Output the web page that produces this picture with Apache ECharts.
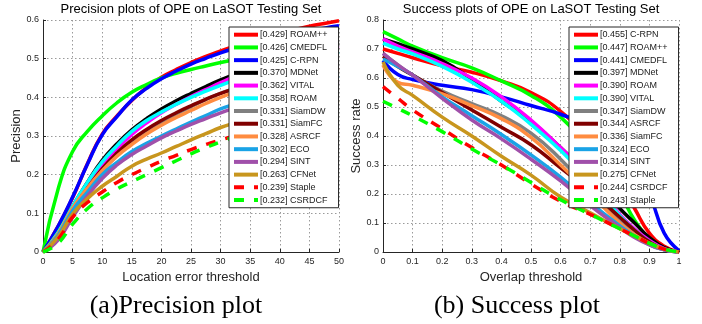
<!DOCTYPE html>
<html>
<head>
<meta charset="utf-8">
<script src="https://cdn.jsdelivr.net/npm/echarts@6/dist/echarts.min.js"></script>
<style>html,body{margin:0;padding:0;background:#fff;}#c{width:702px;height:324px;}</style>
</head>
<body>
<div id="c"></div>
<script>
// ---------- Data ----------
const precX = [0,2.5,5,7.5,10,12.5,15,17.5,20,22.5,25,27.5,30,32.5,35,37.5,40,42.5,45,47.5,50];
const precNames = ['ROAM++','CMEDFL','C-RPN','MDNet','VITAL','ROAM','SiamDW','SiamFC','ASRCF','ECO','SINT','CFNet','Staple','CSRDCF'];
const precScores = ['0.429','0.426','0.425','0.370','0.362','0.358','0.331','0.331','0.328','0.302','0.294','0.263','0.239','0.232'];
const precROAMpp = [0,0.065,0.14,0.228,0.305,0.352,0.392,0.425,0.452,0.472,0.49,0.506,0.52,0.533,0.545,0.556,0.566,0.575,0.584,0.591,0.598];
const precCMEDFL = [0,0.16,0.26,0.312,0.352,0.386,0.413,0.433,0.45,0.462,0.472,0.481,0.49,0.498,0.505,0.511,0.516,0.521,0.526,0.531,0.535];
const precCRPN   = [0,0.065,0.142,0.227,0.303,0.35,0.393,0.423,0.448,0.468,0.486,0.501,0.515,0.527,0.538,0.547,0.556,0.564,0.572,0.579,0.585];
const precMDNet  = [0,0.05,0.118,0.18,0.237,0.28,0.316,0.345,0.37,0.391,0.41,0.428,0.445,0.46,0.475,0.488,0.5,0.511,0.522,0.532,0.542];
const precVITAL  = [0,0.042,0.11,0.167,0.222,0.266,0.304,0.334,0.36,0.382,0.402,0.42,0.438,0.455,0.47,0.483,0.495,0.505,0.515,0.524,0.533];
const precROAM   = [0,0.05,0.118,0.18,0.233,0.275,0.312,0.34,0.362,0.382,0.4,0.416,0.431,0.445,0.458,0.469,0.48,0.49,0.5,0.509,0.518];
const precSiamDW = [0,0.043,0.106,0.16,0.21,0.25,0.284,0.312,0.336,0.357,0.376,0.394,0.41,0.423,0.435,0.445,0.455,0.464,0.472,0.48,0.487];
const precSiamFC = [0,0.044,0.11,0.165,0.215,0.256,0.29,0.317,0.34,0.36,0.378,0.395,0.41,0.423,0.434,0.444,0.452,0.46,0.466,0.472,0.477];
const precASRCF  = [0,0.046,0.113,0.165,0.21,0.248,0.278,0.305,0.328,0.348,0.366,0.384,0.4,0.413,0.425,0.436,0.445,0.453,0.46,0.466,0.471];
const precECO    = [0,0.042,0.107,0.155,0.2,0.232,0.26,0.281,0.3,0.318,0.336,0.353,0.37,0.383,0.395,0.407,0.418,0.428,0.438,0.447,0.455];
const precSINT   = [0,0.03,0.09,0.145,0.19,0.225,0.252,0.274,0.295,0.313,0.33,0.345,0.36,0.373,0.385,0.395,0.405,0.415,0.424,0.432,0.44];
const precCFNet  = [0,0.038,0.098,0.138,0.17,0.196,0.222,0.24,0.256,0.273,0.29,0.306,0.322,0.334,0.345,0.355,0.365,0.373,0.38,0.386,0.392];
const precStaple = [0,0.032,0.09,0.128,0.155,0.18,0.2,0.218,0.235,0.25,0.265,0.278,0.29,0.3,0.31,0.318,0.326,0.333,0.34,0.346,0.352];
const precCSRDCF = [0,0.022,0.072,0.112,0.14,0.163,0.182,0.2,0.218,0.236,0.254,0.27,0.285,0.298,0.31,0.32,0.33,0.338,0.346,0.353,0.36];
const precData = [precROAMpp,precCMEDFL,precCRPN,precMDNet,precVITAL,precROAM,precSiamDW,precSiamFC,precASRCF,precECO,precSINT,precCFNet,precStaple,precCSRDCF];

const succX = [0,0.05,0.1,0.2,0.3,0.4,0.5,0.6,0.7,0.8,0.85,0.9,0.95,1];
const succNames = ['C-RPN','ROAM++','CMEDFL','MDNet','ROAM','VITAL','SiamDW','ASRCF','SiamFC','ECO','SINT','CFNet','CSRDCF','Staple'];
const succScores = ['0.455','0.447','0.441','0.397','0.390','0.390','0.347','0.344','0.336','0.324','0.314','0.275','0.244','0.243'];
const succCRPN   = [0.70,0.685,0.67,0.642,0.62,0.59,0.55,0.485,0.38,0.24,0.15,0.065,0.02,0];
const succROAMpp = [0.76,0.735,0.71,0.67,0.635,0.59,0.54,0.465,0.35,0.2,0.11,0.045,0.012,0];
const succCMEDFL = [0.66,0.612,0.595,0.575,0.56,0.535,0.505,0.475,0.43,0.35,0.29,0.2,0.065,0.005];
const succMDNet  = [0.735,0.718,0.70,0.66,0.595,0.52,0.45,0.36,0.26,0.15,0.1,0.05,0.015,0];
const succROAM   = [0.735,0.71,0.69,0.65,0.6,0.535,0.455,0.36,0.255,0.13,0.08,0.04,0.012,0];
const succVITAL  = [0.72,0.70,0.683,0.64,0.585,0.52,0.44,0.35,0.245,0.125,0.075,0.035,0.01,0];
const succSiamDW = [0.685,0.645,0.61,0.555,0.512,0.47,0.41,0.32,0.21,0.11,0.065,0.025,0.008,0];
const succASRCF  = [0.675,0.64,0.61,0.55,0.49,0.43,0.37,0.29,0.21,0.12,0.075,0.035,0.01,0];
const succSiamFC = [0.645,0.585,0.575,0.545,0.505,0.46,0.395,0.3,0.2,0.1,0.06,0.03,0.01,0];
const succECO    = [0.665,0.64,0.61,0.535,0.47,0.405,0.335,0.258,0.17,0.09,0.055,0.025,0.008,0];
const succSINT   = [0.685,0.645,0.61,0.53,0.455,0.39,0.32,0.245,0.16,0.085,0.05,0.025,0.008,0];
const succCFNet  = [0.655,0.575,0.54,0.465,0.4,0.33,0.265,0.19,0.135,0.08,0.055,0.03,0.01,0];
const succCSRDCF = [0.57,0.53,0.49,0.425,0.36,0.3,0.235,0.175,0.13,0.08,0.055,0.03,0.01,0];
const succStaple = [0.52,0.495,0.47,0.415,0.355,0.3,0.24,0.18,0.13,0.08,0.055,0.03,0.01,0];
const succData = [succCRPN,succROAMpp,succCMEDFL,succMDNet,succROAM,succVITAL,succSiamDW,succASRCF,succSiamFC,succECO,succSINT,succCFNet,succCSRDCF,succStaple];

const precXTicks = [0,5,10,15,20,25,30,35,40,45,50];
const precYTicks = [0,0.1,0.2,0.3,0.4,0.5,0.6];
const succXTicks = [0,0.1,0.2,0.3,0.4,0.5,0.6,0.7,0.8,0.9,1];
const succYTicks = [0,0.1,0.2,0.3,0.4,0.5,0.6,0.7,0.8];

// ---------- Styles ----------
const colors = ['#ff0000','#00ff00','#0000ff','#000000','#ff00ff','#00ffff','#808080','#800000','#ff8c40','#1aa3e6','#a050aa','#c8961e','#ff0000','#00ff00'];
const dashed = [false,false,false,false,false,false,false,false,false,false,false,false,true,true];
const FONT = '"Liberation Sans", Arial, Helvetica, sans-serif';

function makeSeries(names, scores, xs, data, axisIdx) {
  return names.map((n, i) => ({
    name: '[' + scores[i] + '] ' + n,
    type: 'line',
    xAxisIndex: axisIdx, yAxisIndex: axisIdx,
    data: xs.map((x, k) => [x, data[i][k]]),
    smooth: true,
    symbol: 'none',
    showSymbol: false,
    clip: true,
    lineStyle: { color: colors[i], width: 3.5, type: dashed[i] ? [10, 10] : 'solid', cap: 'butt', join: 'round' },
    itemStyle: { color: colors[i], opacity: 0 },
    emphasis: { disabled: true },
    z: 2
  }));
}

function axisCommon(min, max, interval, name, gap, isY) {
  return {
    type: 'value', min: min, max: max, interval: interval,
    name: name, nameLocation: 'middle', nameGap: gap,
    nameTextStyle: { fontFamily: FONT, fontSize: 13, color: '#262626' },
    axisLine: { show: true, onZero: false, lineStyle: { color: '#262626', width: 1 } },
    axisTick: { show: true, inside: true, length: 3, lineStyle: { color: '#262626' } },
    axisLabel: { fontFamily: FONT, fontSize: 9, color: '#262626', margin: isY ? 4 : 5, showMinLabel: true, showMaxLabel: true },
    splitLine: { show: true, lineStyle: { color: '#9a9a9a', type: [1.5, 2.5], width: 1 } }
  };
}

function legendCfg(left, names, scores) {
  return {
    orient: 'vertical', left: left, top: 27,
    data: names.map((n, i) => '[' + scores[i] + '] ' + n),
    itemWidth: 24, itemHeight: 9, itemGap: 3.72,
    padding: [3.2, 11, 3.2, 3],
    backgroundColor: '#fff', borderColor: '#262626', borderWidth: 1,
    itemStyle: { opacity: 0 },
    lineStyle: { width: 4 },
    textStyle: { fontFamily: FONT, fontSize: 9, color: '#1a1a1a', padding: [0,0,0,-3] },
    selectedMode: false
  };
}

const chart = echarts.init(document.getElementById('c'), null, { renderer: 'canvas' });
chart.setOption({
  animation: false,
  backgroundColor: '#ffffff',
  grid: [
    { left: 43, top: 20, width: 296, height: 232, containLabel: false },
    { left: 383, top: 20, width: 296, height: 232, containLabel: false }
  ],
  xAxis: [
    axisCommon(0, 50, 5, 'Location error threshold', 17, false),
    Object.assign(axisCommon(0, 1, 0.1, 'Overlap threshold', 17, false), { gridIndex: 1 })
  ],
  yAxis: [
    axisCommon(0, 0.6, 0.1, 'Precision', 15, true),
    Object.assign(axisCommon(0, 0.8, 0.1, 'Success rate', 14, true), { gridIndex: 1 })
  ],
  legend: [ legendCfg(229, precNames, precScores), legendCfg(569, succNames, succScores) ],
  series: makeSeries(precNames, precScores, precX, precData, 0)
    .concat(makeSeries(succNames, succScores, succX, succData, 1)),
  graphic: [
    { type: 'text', x: 191, y: 3, style: { text: 'Precision plots of OPE on LaSOT Testing Set', font: '13px ' + FONT, fill: '#000', align: 'center', verticalAlign: 'top' } },
    { type: 'text', x: 531, y: 3, style: { text: 'Success plots of OPE on LaSOT Testing Set', font: '13px ' + FONT, fill: '#000', align: 'center', verticalAlign: 'top' } },
    { type: 'text', x: 176, y: 306, style: { text: '(a)Precision plot', font: '26px "Liberation Serif", "Times New Roman", serif', fill: '#000', align: 'center', verticalAlign: 'middle' } },
    { type: 'text', x: 517, y: 306, style: { text: '(b) Success plot', font: '26px "Liberation Serif", "Times New Roman", serif', fill: '#000', align: 'center', verticalAlign: 'middle' } }
  ]
});
</script>
</body>
</html>
